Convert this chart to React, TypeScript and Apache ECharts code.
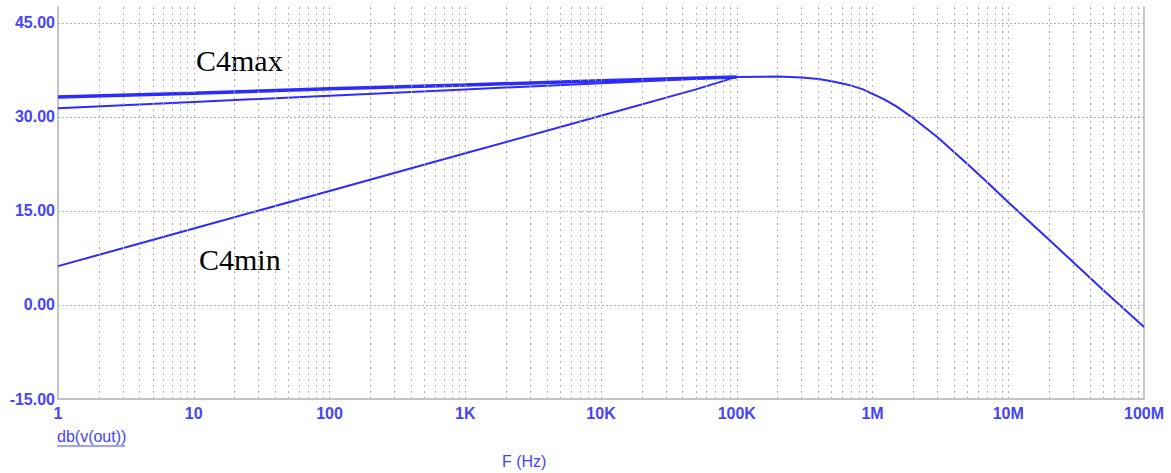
import React, { useEffect, useRef } from "react";
import * as echarts from "echarts";

const freqTicks = [1, 10, 100, 1e3, 1e4, 1e5, 1e6, 1e7, 1e8];
const freqTickLabels = ["1", "10", "100", "1K", "10K", "100K", "1M", "10M", "100M"];
const yTicks = [-15, 0, 15, 30, 45];
const minorMultipliers = [2, 3, 4, 5, 6, 7, 8, 9];

const c4maxFreq = [1, 10, 100, 1000, 10000, 100000];
const c4maxDb = [33.2, 33.8, 34.5, 35.1, 35.8, 36.4];
const c4midFreq = [1, 10, 100, 1000, 10000, 100000];
const c4midDb = [31.4, 32.4, 33.4, 34.4, 35.4, 36.4];
const c4minFreq = [1, 10, 100, 1000, 10000, 50000, 100000];
const c4minDb = [6.2, 12.2, 18.2, 24.2, 30.2, 34.4, 36.4];
const tailFreq = [100000, 200000, 300000, 400000, 500000, 600000, 700000, 850000, 1e6, 1.2e6, 1.5e6, 2e6, 3e6, 5e6, 7e6, 1e7, 2e7, 5e7, 1e8];
const tailDb = [36.4, 36.45, 36.3, 36.05, 35.7, 35.35, 35.0, 34.4, 33.7, 32.9, 31.7, 29.8, 26.8, 22.5, 19.6, 16.4, 10.4, 2.4, -3.5];

const LINE = "#2b2bff";
const LABEL = "#4444ff";
const GRID = "#b4b4b4";
const SANS = "'Liberation Sans', Arial, sans-serif";
const SERIF = "30px 'Liberation Serif', 'Times New Roman', serif";

const zip = (xs: number[], ys: number[]) => xs.map((x, i) => [x, ys[i]]);

export default function App() {
  const ref = useRef<HTMLDivElement>(null);
  useEffect(() => {
    if (!ref.current) return;
    const chart = echarts.init(ref.current, undefined, { renderer: "svg" });
    const minorLines: any[] = [];
    for (let k = 0; k < freqTicks.length - 1; k++) {
      for (const m of minorMultipliers) minorLines.push({ xAxis: freqTicks[k] * m });
    }
    const majorLines = freqTicks.slice(1, -1).map((f) => ({ xAxis: f }));
    const hLines = yTicks.slice(1).map((v) => ({ yAxis: v }));
    chart.setOption({
      animation: false,
      grid: { left: 58, right: 27, top: 7, bottom: 74 },
      xAxis: {
        type: "log",
        logBase: 10,
        min: 1,
        max: 1e8,
        axisLine: { show: true, onZero: false, lineStyle: { color: "#c4c4c4", width: 2 } },
        axisTick: { show: false },
        splitLine: { show: false },
        minorTick: { show: false },
        axisLabel: {
          color: LABEL,
          fontFamily: SANS,
          fontSize: 16,
          fontWeight: "bold",
          margin: 6,
          formatter: (v: number) => {
            const i = Math.round(Math.log10(v));
            return freqTickLabels[i] ?? "";
          },
        },
      },
      yAxis: [
        {
          type: "value",
          min: -15,
          max: 47.55,
          interval: 15,
          axisLine: { show: true, onZero: false, lineStyle: { color: "#c4c4c4", width: 2 } },
          axisTick: { show: false },
          splitLine: { show: false },
          axisLabel: {
            color: LABEL,
            fontFamily: SANS,
            fontSize: 16,
            fontWeight: "bold",
            margin: 3,
            formatter: (v: number) =>
              yTicks.some((t) => Math.abs(t - v) < 1e-6) ? v.toFixed(2) : "",
          },
        },
        {
          type: "value",
          position: "right",
          min: -15,
          max: 47.55,
          interval: 15,
          axisLine: { show: true, onZero: false, lineStyle: { color: "#c8c8c8", width: 2 } },
          axisTick: { show: false },
          axisLabel: { show: false },
          splitLine: { show: false },
        },
      ],
      graphic: [
        {
          type: "text",
          left: 196,
          top: 45,
          style: { text: "C4max", font: SERIF, fill: "#000" },
        },
        {
          type: "text",
          left: 199,
          top: 244,
          style: { text: "C4min", font: SERIF, fill: "#000" },
        },
        {
          type: "text",
          left: 57,
          top: 428,
          style: { text: "db(v(out))", font: "16px 'Liberation Sans', Arial, sans-serif", fill: LABEL },
        },
        {
          type: "line",
          shape: { x1: 57, y1: 446, x2: 125, y2: 446 },
          style: { stroke: LABEL, lineWidth: 1.2 },
        },
        {
          type: "text",
          left: 502,
          top: 453,
          style: { text: "F (Hz)", font: "16px 'Liberation Sans', Arial, sans-serif", fill: LABEL },
        },
      ],
      series: [
        {
          type: "line",
          data: [],
          silent: true,
          markLine: {
            silent: true,
            symbol: "none",
            label: { show: false },
            lineStyle: { color: GRID, type: [2, 4], width: 1 },
            data: [...minorLines, ...majorLines],
          },
        },
        {
          type: "line",
          data: [],
          silent: true,
          markLine: {
            silent: true,
            symbol: "none",
            label: { show: false },
            lineStyle: { color: GRID, type: [2, 2], width: 1 },
            data: hLines,
          },
        },
        {
          type: "line",
          name: "C4max",
          data: zip(c4maxFreq, c4maxDb),
          showSymbol: false,
          lineStyle: { color: LINE, width: 3.5 },
        },
        {
          type: "line",
          name: "C4mid",
          data: zip(c4midFreq, c4midDb),
          showSymbol: false,
          lineStyle: { color: LINE, width: 2 },
        },
        {
          type: "line",
          name: "C4min",
          data: zip(c4minFreq, c4minDb),
          showSymbol: false,
          lineStyle: { color: LINE, width: 2 },
        },
        {
          type: "line",
          name: "tail",
          data: zip(tailFreq, tailDb),
          showSymbol: false,
          smooth: false,
          lineStyle: { color: LINE, width: 2 },
        },
      ],
    });
    return () => chart.dispose();
  }, []);
  return <div ref={ref} style={{ width: 1171, height: 473, position: "absolute", left: 0, top: 0 }} />;
}
